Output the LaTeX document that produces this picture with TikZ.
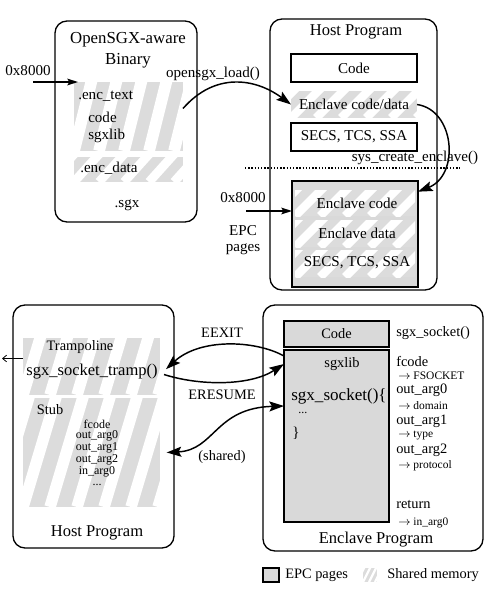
\documentclass[tikz,border=0pt]{standalone}
\usepackage{fontspec}
\setmainfont{Liberation Serif}
\usetikzlibrary{arrows.meta,calc}
\definecolor{sgray}{HTML}{DCDCDC}
\definecolor{egray}{HTML}{D9D9D9}

\newcommand{\pxbox}[7]{%
  \pgfmathsetmacro{\bxw}{(#5-#3)*0.75}%
  \pgfmathsetmacro{\bxh}{(#6-#4)*0.75}%
  \node[#2, minimum width=\bxw pt, minimum height=\bxh pt, inner sep=0pt, outer sep=0pt] (#1) at ({(#3+#5)/2},{(#4+#6)/2}) {#7};%
}
\newcommand{\stripes}[4]{%
  \begin{scope}
    \clip (#1.south west) rectangle (#1.north east);
    \fill[sgray] (#1.south west) rectangle (#1.north east);
    \pgfmathsetmacro{\slw}{#4*0.75/sqrt(1+(#2)*(#2))}
    \foreach \k in {-14,...,14}{
      \draw[white, line width=\slw pt] ($(#1.south west)+({\k*#3},0)$) -- ++({(#2)*160},-160);
    }
  \end{scope}}

\begin{document}
\begin{tikzpicture}[x=0.75pt,y=-0.75pt,
  outer/.style={draw, line width=1pt, rounded corners=9pt},
  wbox/.style={draw, line width=1.1pt, fill=white},
  gbox/.style={draw, line width=1.1pt, fill=egray},
  gthick/.style={draw, line width=1.6pt, fill=egray},
  emptybox/.style={},
  ttl/.style={inner sep=0pt, font=\fontsize{12.4}{15.5}\selectfont},
  tbig/.style={inner sep=0pt, font=\fontsize{12.8}{15}\selectfont},
  tmid/.style={inner sep=0pt, font=\fontsize{11.3}{12}\selectfont},
  tlab/.style={inner sep=0pt, font=\fontsize{10.8}{12}\selectfont},
  tsm/.style={inner sep=0pt, font=\fontsize{9}{10}\selectfont},
  tarr/.style={inner sep=0pt, font=\fontsize{8.6}{10}\selectfont},
  bigarr/.style={line width=1.1pt, -{Stealth[length=11pt,width=7.5pt,inset=2pt]}},
  dblarr/.style={line width=1.1pt, {Stealth[length=11pt,width=7.5pt,inset=2pt]}-{Stealth[length=11pt,width=7.5pt,inset=2pt]}},
  addrarr/.style={line width=1pt, -{Stealth[length=8pt,width=5pt,inset=1.5pt]}},
  smallarr/.style={line width=0.6pt, -{Straight Barb[length=3pt,width=5pt]}}
]
\useasboundingbox (0,0) rectangle (490,589);

% ---------- top left: binary ----------
\pxbox{bin}{outer}{55}{21}{197}{222}{}
\node[ttl, align=center, font=\fontsize{12.6}{15.75}\selectfont] (bintitle) at (128,50) {OpenSGX-aware\\Binary};
\pxbox{enctext}{emptybox}{74}{82}{183}{151}{}
\stripes{enctext}{0.25}{25}{12}
\pxbox{encdata}{emptybox}{74}{157}{183}{182}{}
\stripes{encdata}{0.9}{25}{12}
\node[tmid, anchor=west] (enctextt) at (78,96) {.enc\_text};
\node[tmid, anchor=west] (codet) at (88,117) {code};
\node[tmid, anchor=west] (sgxlibt) at (88,136) {sgxlib};
\node[tmid, anchor=west] (encdatat) at (80,168) {.enc\_data};
\node[tmid] (sgxt) at (127,205) {.sgx};
\node[tmid] (addr1) at (28,71) {0x8000};
\coordinate (addr1s) at (33,82);
\draw[addrarr] (addr1s) -- ([xshift=3pt]enctext.north west);

% ---------- top right: host program ----------
\pxbox{host1}{outer}{270}{19}{437}{290}{}
\node[ttl] (host1t) at (356,32) {Host Program};
\pxbox{code1}{wbox,tmid}{291}{54}{417}{82}{Code}
\pxbox{ecd}{emptybox}{291}{91}{417}{118}{}
\stripes{ecd}{1}{25}{12}
\node[tmid] (ecdt) at (354,104.5) {Enclave code/data};
\pxbox{secs1}{wbox,tmid}{291}{123}{417}{151}{SECS, TCS, SSA}
\coordinate (dotl) at (245,168);
\coordinate (dotr) at (460,168);
\draw[line width=1pt, dash pattern=on 1.1pt off 1.3pt] (dotl) -- (dotr);
\node[tmid] (syst) at (415,158) {sys\_create\_enclave()};

\pxbox{epc}{gthick}{292}{181}{418}{287}{}
\pxbox{epc1}{emptybox}{295}{190}{415}{216}{}
\stripes{epc1}{1}{25}{12}
\pxbox{epc2}{emptybox}{295}{220}{415}{247}{}
\stripes{epc2}{1}{25}{12}
\pxbox{epc3}{emptybox}{295}{250}{415}{277}{}
\stripes{epc3}{1}{25}{12}
\node[tmid] (epc1t) at (357,203) {Enclave code};
\node[tmid] (epc2t) at (357,233) {Enclave data};
\node[tmid] (epc3t) at (357,263) {SECS, TCS, SSA};
\node[tmid] (addr2) at (243,198) {0x8000};
\coordinate (addr2s) at (246,211);
\draw[addrarr] (addr2s) -- (addr2s -| epc.west);
\node[tmid, align=center, font=\fontsize{11.3}{12}\selectfont] (epcl) at (243,240) {EPC\\pages};

\node[tmid] (loadt) at (213,74) {opensgx\_load()};
\draw[bigarr] ([yshift=6pt]enctext.east) .. controls (215,72) and (255,78) .. (ecd.west);
\draw[bigarr] (ecd.east) .. controls (455,110) and (460,175) .. ([yshift=-8pt]epc.north east);

% ---------- bottom left: host program ----------
\pxbox{host2}{outer}{13}{305}{174}{548}{}
\node[ttl] (host2t) at (97,533) {Host Program};
\pxbox{tramp}{emptybox}{23}{338}{160}{395}{}
\stripes{tramp}{0.3}{27}{12}
\node[tlab] (trampt) at (80,347) {Trampoline};
\node[ttl] (tramps) at (92,372) {sgx\_socket\_tramp()};
\pxbox{stub}{emptybox}{23}{398}{160}{507}{}
\stripes{stub}{0.3}{27}{12}
\node[tlab] (stubt) at (50,410) {Stub};
\node[tsm] (s1) at (97,424) {fcode};
\node[tsm] (s2) at (97,436) {out\_arg0};
\node[tsm] (s3) at (97,448) {out\_arg1};
\node[tsm] (s4) at (97,460) {out\_arg2};
\node[tsm] (s5) at (97,472) {in\_arg0};
\node[tsm] (s6) at (97,485) {...};
\coordinate (lout) at (2,358.5);
\draw[smallarr] ([yshift=6pt]tramp.west) -- (lout);

% ---------- bottom right: enclave program ----------
\pxbox{encl}{outer}{263}{305}{483}{551}{}
\node[ttl] (enclt) at (376,540) {Enclave Program};
\pxbox{code2}{gbox,tlab}{284}{321}{389}{347}{Code}
\pxbox{sgxl}{gthick}{284}{350}{389}{522}{}
\node[tlab] (sgxlt) at (342,364) {sgxlib};
\node[tbig, anchor=west] (sockt) at (291,396) {sgx\_socket()\{};
\node[tsm, anchor=west] (dots2) at (298,413) {...};
\node[tmid, anchor=west] (brace) at (292,433) {\}};

\node[tlab, anchor=west] (r1) at (396,333) {sgx\_socket()};
\node[tlab, anchor=west] (r2) at (396,361) {fcode};
\node[tarr, anchor=west] (r3) at (398,376) {$\rightarrow$ FSOCKET};
\node[tlab, anchor=west] (r4) at (396,390) {out\_arg0};
\node[tarr, anchor=west] (r5) at (398,406) {$\rightarrow$ domain};
\node[tlab, anchor=west] (r6) at (396,421) {out\_arg1};
\node[tarr, anchor=west] (r7) at (398,436) {$\rightarrow$ type};
\node[tlab, anchor=west] (r8) at (396,450) {out\_arg2};
\node[tarr, anchor=west] (r9) at (398,466) {$\rightarrow$ protocol};
\node[tlab, anchor=west] (r10) at (396,505) {return};
\node[tarr, anchor=west] (r11) at (398,523) {$\rightarrow$ in\_arg0};

% ---------- transitions ----------
\node[tlab] (eexit) at (222,333) {EEXIT};
\node[tlab] (eresume) at (222,395) {ERESUME};
\node[tlab] (shared) at (222,457) {(shared)};
\draw[bigarr] ([yshift=-4.5pt]sgxl.north west) .. controls (255,340) and (200,338) .. ([xshift=4.5pt,yshift=-2pt]tramp.east);
\draw[bigarr] ([xshift=3pt,yshift=-6pt]tramp.east) .. controls (200,386) and (250,386) .. ([yshift=-10.5pt]sgxl.north west);
\draw[dblarr] ([xshift=5pt]stub.east) .. controls (215,450) and (215,408) .. ([yshift=-42pt]sgxl.north west);

% ---------- legend ----------
\pxbox{leg1}{gbox}{263}{568}{279}{582}{}
\node[tlab, anchor=west] (leg1t) at (285,575) {EPC pages};
\pxbox{leg2}{emptybox}{363}{568}{377}{582}{}
\stripes{leg2}{0.5}{6}{2.5}
\node[tlab, anchor=west] (leg2t) at (387,575) {Shared memory};
\end{tikzpicture}
\end{document}
